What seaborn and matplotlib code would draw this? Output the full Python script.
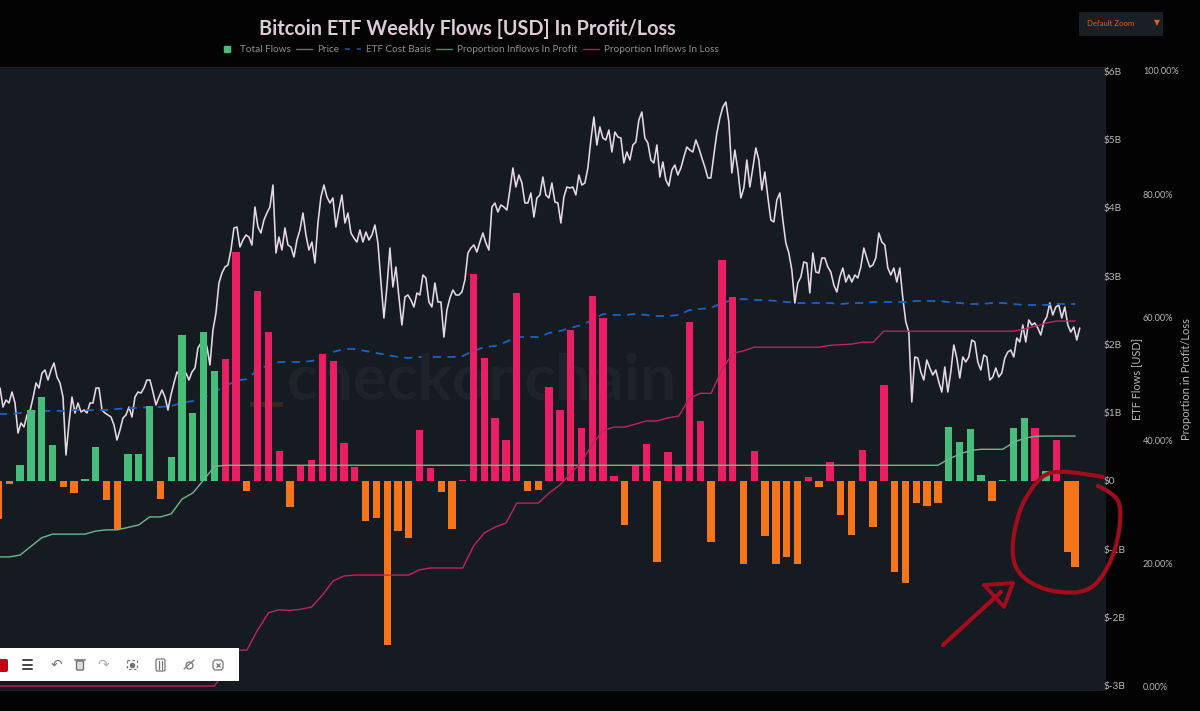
import numpy as np
import pandas as pd
import matplotlib
matplotlib.use("Agg")
import matplotlib.pyplot as plt
import matplotlib.dates as mdates
from matplotlib.lines import Line2D
from matplotlib.patches import PathPatch, Rectangle, FancyBboxPatch
from matplotlib.path import Path
import seaborn as sns

# weekly ETF flows, $B
flows = [-.55, -.05, .23, 1.04, 1.23, .53, -.09, -.17, .025, .50,
         -.28, -.70, .40, .39, 1.10, -.26, .35, 2.13, .99, 2.18,
         1.61, 1.79, 3.35, -.14, 2.78, 2.18, .44, -.385, .23, .31,
         1.86, 1.76, .55, .20, -.58, -.54, -2.40, -.74, -.83, .74,
         .185, -.16, -.71, .015, 3.03, 1.80, .92, .60, 2.75, -.14,
         -.13, 1.37, 1.04, 2.21, .77, 2.71, 2.38, .07, -.64, .23,
         .54, -1.18, .43, .22, 2.32, .88, -.90, 3.23, 2.70, -1.22,
         .44, -.80, -1.21, -1.12, -1.22, .063, -.09, .28, -.50, -.785,
         .45, -.68, 1.41, -1.33, -1.49, -.32, -.37, -.32, .79, .57,
         .76, .09, -.29, .02, .77, .92, .77, .14, .60, -1.04,
         -1.26]
# g = inflow in profit, p = inflow in loss, o = outflow
flow_state = list("".join(["ooggggoogg",
                           "oogggogggg",
                           "gppopppopp",
                           "ppppooooop",
                           "pooppppppo",
                           "opppppppop",
                           "poppppoppo",
                           "poooopopoo",
                           "popooooogg",
                           "ggogggpgpoo"]))
week_dates = list(pd.date_range("2024-06-23", periods=100, freq="7D")) + [pd.Timestamp("2026-05-22")]

# proportion of inflows in profit / loss, %
prop_profit = [21.0, 21.0, 21.3, 22.7, 24.1, 24.7, 24.7, 24.7, 24.7, 25.2,
               25.4, 25.4, 25.8, 26.2, 27.5, 27.5, 28.0, 30.4, 31.4, 33.5,
               35.7, 35.9, 35.9, 35.9, 35.9, 35.9, 35.9, 35.9, 35.9, 35.9,
               35.9, 35.9, 35.9, 35.9, 35.9, 35.9, 35.9, 35.9, 35.9, 35.9,
               35.9, 35.9, 35.9, 35.9, 35.9, 35.9, 35.9, 35.9, 35.9, 35.9,
               35.9, 35.9, 35.9, 35.9, 35.9, 35.9, 35.9, 35.9, 35.9, 35.9,
               35.9, 35.9, 35.9, 35.9, 35.9, 35.9, 35.9, 35.9, 35.9, 35.9,
               35.9, 35.9, 35.9, 35.9, 35.9, 35.9, 35.9, 35.9, 35.9, 35.9,
               35.9, 35.9, 35.9, 35.9, 35.9, 35.9, 35.9, 35.9, 36.9, 37.7,
               38.3, 38.5, 38.5, 38.5, 39.6, 40.3, 40.6, 40.65, 40.65, 40.65,
               40.65]
prop_loss = [0, 0, 0, 0, 0, 0, 0, 0, 0, 0,
             0, 0, 0, 0, 0, 0, 0, 0, 0, 0,
             0, 2.6, 5.85, 5.85, 9.1, 11.9, 12.4, 12.3, 12.5, 12.85,
             14.8, 17.1, 17.9, 18.05, 18.05, 18.05, 18.05, 18.05, 18.05, 18.9,
             19.2, 19.2, 19.2, 19.2, 22.8, 24.9, 25.85, 26.5, 29.75, 29.75,
             29.75, 31.4, 32.7, 34.6, 36.4, 39.35, 41.5, 42.1, 42.1, 42.6,
             43.1, 43.1, 43.6, 43.9, 46.8, 47.6, 47.6, 51.4, 54.1, 54.5,
             55.1, 55.1, 55.1, 55.1, 55.1, 55.1, 55.1, 55.4, 55.5, 55.6,
             55.9, 55.9, 57.7, 57.7, 57.7, 57.7, 57.7, 57.7, 57.7, 57.7,
             57.7, 57.7, 57.7, 57.7, 57.7, 58.05, 58.5, 59.0, 59.35, 59.35,
             59.35]

# price and cost basis, read on the chart's unlabelled price scale
cost_basis = [277, 277, 278, 279, 280, 280, 280, 281, 281, 281,
              281, 282, 283, 283, 284, 284, 285, 288, 290, 293,
              299, 305, 310, 312, 321, 326, 329, 329, 329, 330,
              333, 339, 342, 342, 340, 338, 336, 334, 333, 334,
              334, 334, 334, 335, 340, 344, 345, 349, 354, 354,
              354, 358, 360, 363, 366, 371, 377, 376, 376, 377,
              376, 375, 375, 376, 381, 382, 383, 388, 391, 392,
              391, 391, 390, 389, 388, 388, 388, 388, 387, 388,
              388, 389, 389, 389, 389, 390, 390, 390, 389, 388,
              387, 387, 388, 388, 387, 386, 386, 386, 387, 387,
              387]
price = [303, 284, 291, 288, 299, 288, 258, 268, 264, 276,
         280, 293, 308, 303, 318, 321, 311, 321, 328, 314,
         308, 294, 236, 268, 294, 278, 288, 279, 281, 278,
         288, 288, 303, 303, 281, 278, 276, 274, 266, 251,
         261, 273, 276, 284, 274, 294, 299, 298, 303, 311,
         311, 299, 286, 294, 301, 294, 281, 296, 308, 319,
         316, 314, 318, 311, 319, 323, 343, 348, 354, 344,
         326, 361, 378, 408, 418, 424, 426, 441, 463, 464,
         444, 451, 456, 454, 446, 484, 464, 458, 471, 478,
         484, 506, 438,
         454, 441, 463, 446, 444, 434, 451, 461, 478, 456,
         441, 449, 428, 468, 494, 506, 494, 488, 493, 464,
         481, 496, 468, 478, 458, 453, 449, 461, 449, 459,
         451, 456, 466, 448, 409, 373, 404, 443, 404, 424,
         394, 366, 394, 396, 391, 384, 398, 396, 416, 413,
         389, 384, 408, 389, 389, 354, 381, 393, 401, 396,
         396, 399, 411, 438, 443, 446, 439, 449, 458, 448,
         441, 484, 488, 479, 486, 484, 481, 501, 523, 504,
         516, 508, 488, 488, 498, 474, 493, 496, 514, 496,
         493,
         508, 489, 488, 468, 494, 504, 503, 504, 496, 516,
         506, 508, 523, 551, 574, 546, 564, 553, 551, 561,
         539, 559, 554, 553, 528, 539, 531, 546, 549, 571,
         579, 553, 548, 531, 528, 546, 514, 529, 511, 505,
         521, 526, 516, 523, 534, 544, 541, 539, 551, 543,
         533, 524, 513, 513, 536, 558, 573, 584, 589, 569,
         518, 541, 521, 493, 503, 531, 504, 523, 543, 531,
         501, 519, 494, 471, 469, 491, 498, 471, 448, 438,
         421, 388, 408, 414, 429, 428, 398, 438, 419, 418,
         433, 433, 424, 419, 406, 399, 414, 423, 409, 416,
         409, 416, 413, 424, 443, 433, 424, 426, 433, 458,
         449, 446, 423, 416, 423, 409, 423, 393, 369, 359,
         289, 334, 333, 319, 311, 331, 323, 316, 321, 309,
         299, 324, 299, 319, 346, 333, 313, 334, 329, 334,
         351, 349, 329, 321, 336, 334, 311, 314, 323, 314,
         318, 333, 339, 341, 334, 353, 349, 366, 349, 371,
         366, 368, 363, 356, 369, 374, 388, 376, 384, 386,
         373, 384, 366, 359, 364, 351, 363]
price_dates = pd.date_range("2024-06-24", "2026-05-25", periods=len(price))

date_ticks = ["2024-07-01", "2024-10-01", "2025-01-01", "2025-04-01",
              "2025-07-01", "2025-10-01", "2026-01-01", "2026-04-01"]
date_labels = ["01-Jul-24", "01-Oct-24", "01-Jan-25", "01-Apr-25",
               "01-Jul-25", "01-Oct-25", "01-Jan-26", "01-Apr-26"]
flow_ticks = [-3, -2, -1, 0, 1, 2, 3, 4, 5, 6]
flow_labels = ["$-3B", "$-2B", "$-1B", "$0", "$1B", "$2B", "$3B", "$4B", "$5B", "$6B"]
pct_ticks = [0, 20, 40, 60, 80, 100]
pct_labels = ["0.00%", "20.00%", "40.00%", "60.00%", "80.00%", "100.00%"]

GREEN, PINK, ORANGE = "#46bd7b", "#e91e63", "#f5761a"
BG, PANEL = "#030303", "#161a21"
TXT = "#b9b5b8"

sns.set_theme(style="dark")
plt.rcParams["font.family"] = ["Lato", "DejaVu Sans"]

fig = plt.figure(figsize=(12, 7.11), dpi=100, facecolor=BG)
ax_price = fig.add_axes([0, 1 - 691 / 711, 1106 / 1200, 624 / 711], facecolor=PANEL)
ax = ax_price.twinx()
ax_pct = ax_price.twinx()
ax_price.set_zorder(1)
ax.set_zorder(2)
ax_pct.set_zorder(3)
ax.patch.set_visible(False)
ax_pct.patch.set_visible(False)

x_left, x_right = mdates.date2num(pd.Timestamp("2024-06-24")), mdates.date2num(pd.Timestamp("2026-06-11"))

# watermark sits under everything
ax_price.add_patch(Rectangle((250 / 1106, 284 / 624), 33 / 1106, 5 / 624, transform=ax_price.transAxes,
                             color="#33291f", lw=0))
ax_price.text(0.2595, 0.497, "checkonchain", transform=ax_price.transAxes, color="#1e2329", fontsize=46,
              fontweight="bold", ha="left", va="center")

sns.lineplot(x=mdates.date2num(price_dates), y=price, ax=ax_price, color="#e6dae2", lw=1.15,
             estimator=None, sort=False, legend=False)
sns.lineplot(x=mdates.date2num(week_dates), y=cost_basis, ax=ax_price, color="#1c62c4", lw=1.3,
             linestyle=(0, (4.5, 3.5)), estimator=None, sort=False, legend=False)
ax_price.set_ylim(0, 624)
ax_price.set_yticks([])

bars = pd.DataFrame({"day": mdates.date2num(week_dates), "flow": flows, "state": flow_state})
sns.barplot(data=bars, x="day", y="flow", hue="state", palette={"g": GREEN, "p": PINK, "o": ORANGE},
            native_scale=True, dodge=False, width=0.95, saturation=1, errorbar=None, legend=False,
            linewidth=0, ax=ax)
ax.set_xlabel("")
ax.set_ylim(-3.075, 6.06)
ax.set_yticks(flow_ticks, flow_labels)
ax.yaxis.tick_right()
ax.yaxis.set_label_position("right")
ax.set_ylabel("ETF Flows [USD]", color=TXT, fontsize=7.9)
ax.yaxis.set_label_coords(1131 / 1106, 0.5)
ax.tick_params(axis="y", length=0, pad=-1.5, labelsize=7.3, labelcolor=TXT)

sns.lineplot(x=mdates.date2num(week_dates), y=prop_profit, ax=ax_pct, color="#6cb98f", lw=1.0,
             estimator=None, sort=False, legend=False)
sns.lineplot(x=mdates.date2num(week_dates), y=prop_loss, ax=ax_pct, color="#c2235c", lw=1.0,
             estimator=None, sort=False, legend=False)
ax_pct.set_ylim(-0.8, 100.65)
ax_pct.set_yticks(pct_ticks, pct_labels)
ax_pct.yaxis.tick_right()
ax_pct.yaxis.set_label_position("right")
ax_pct.set_ylabel("Proportion in Profit/Loss", color=TXT, fontsize=8.0)
ax_pct.yaxis.set_label_coords(1181 / 1106, 0.5)
ax_pct.tick_params(axis="y", length=0, pad=26.5, labelsize=6.6, labelcolor=TXT)

for a in (ax_price, ax, ax_pct):
    a.set_xlim(x_left, x_right)
    a.grid(False)
    for s in a.spines.values():
        s.set_visible(False)

ax_price.set_xticks(mdates.date2num(pd.to_datetime(date_ticks)), date_labels)
ax_price.tick_params(axis="x", length=0, pad=3, labelsize=7.6, labelcolor=TXT)
ax.set_xticks([])
ax_pct.set_xticks([])

fig.text(467 / 1200, 1 - 29 / 711, "Bitcoin ETF Weekly Flows [USD] In Profit/Loss", color="#dccbd3",
         fontsize=14.35, fontweight="bold", ha="center", va="center")

handles = [Line2D([], [], color=GREEN, marker="s", ms=5, ls="", label="Total Flows"),
           Line2D([], [], color="#6e6e6e", lw=1, label="Price"),
           Line2D([], [], color="#1c4f9c", lw=1.2, ls=(0, (3, 4)), label="ETF Cost Basis"),
           Line2D([], [], color="#3f8f62", lw=1, label="Proportion Inflows In Profit"),
           Line2D([], [], color="#a51f49", lw=1, label="Proportion Inflows In Loss")]
fig.legend(handles=handles, ncol=5, loc="center", bbox_to_anchor=(469 / 1200, 1 - 50 / 711), frameon=False,
           fontsize=7.2, labelcolor="#8f8c8e", handlelength=1.6, handletextpad=0.5, columnspacing=0.55,
           borderpad=0)

# overlay in image pixels for the screenshot furniture and the hand drawing
ov = fig.add_axes([0, 0, 1, 1], facecolor="none", zorder=10)
ov.set_xlim(0, 1200)
ov.set_ylim(711, 0)
ov.axis("off")

ov.add_patch(Rectangle((1079, 12), 84, 24, color="#1a1e25", lw=0))
ov.text(1087, 24, "Default Zoom", color="#d9661c", fontsize=5.6, va="center")
ov.text(1157, 23, "▼", color="#d9661c", fontsize=5.5, va="center", ha="center", family="DejaVu Sans")

ov.add_patch(Rectangle((0, 648), 239, 33, color="#ffffff", lw=0))
ov.add_patch(FancyBboxPatch((-6, 659), 14, 13, boxstyle="round,pad=0,rounding_size=2", color="#c40012", lw=0))
for y in (659.5, 664.5, 668.5):
    ov.plot([23, 32], [y, y], color="#444", lw=1.4)
icon = "#777377"
ov.text(56, 665, "↶", color=icon, fontsize=10, ha="center", va="center", family="DejaVu Sans")
ov.add_patch(FancyBboxPatch((76.5, 661), 7, 9, boxstyle="round,pad=0,rounding_size=1", ec=icon, fc="#ddd", lw=1))
ov.plot([75, 85], [660, 660], color=icon, lw=1.2)
ov.text(103, 665, "↷", color="#aaa", fontsize=10, ha="center", va="center", family="DejaVu Sans")
ov.add_patch(Rectangle((127, 660), 10, 9, ec=icon, fc="none", lw=0.9, ls=(0, (2, 2))))
ov.plot([132], [664.5], "o", color=icon, ms=3)
ov.add_patch(FancyBboxPatch((156, 659), 9, 12, boxstyle="round,pad=0,rounding_size=1.5", ec=icon, fc="none", lw=0.9))
ov.plot([159, 159], [661, 669], color=icon, lw=0.9)
ov.plot([162, 162], [661, 669], color=icon, lw=0.9)
ov.plot([189], [665], "o", mfc="none", mec=icon, ms=5, mew=0.9)
ov.plot([184, 194], [669, 660], color=icon, lw=0.9)
ov.add_patch(FancyBboxPatch((213, 660), 10, 10, boxstyle="round,pad=0,rounding_size=3", ec=icon, fc="none", lw=0.9))
ov.plot([218], [665], "x", color=icon, ms=2.5, mew=0.9)

ink = "#a30c1c"
loop = np.array([(1103, 477), (1080, 473), (1057, 471), (1043, 475), (1030, 490), (1018, 513), (1011, 550),
                 (1017, 573), (1037, 587), (1060, 593), (1087, 592), (1103, 577), (1117, 547), (1122, 507),
                 (1113, 493), (1083, 479)], dtype=float)
verts, codes = [loop[0]], [Path.MOVETO]
for a, b in zip(loop[1:-1], loop[2:]):
    verts += [a, (a + b) / 2]
    codes += [Path.CURVE3, Path.CURVE3]
ov.add_patch(PathPatch(Path(verts, codes), fc="none", ec=ink, lw=3.0, capstyle="round"))
ov.plot([943, 1001], [645, 592], color=ink, lw=3.0, solid_capstyle="round")
ov.plot([984, 1013, 1004, 984], [585, 583, 607, 585], color=ink, lw=2.8, solid_joinstyle="round")

fig.savefig("out.png", dpi=100, facecolor=BG)
